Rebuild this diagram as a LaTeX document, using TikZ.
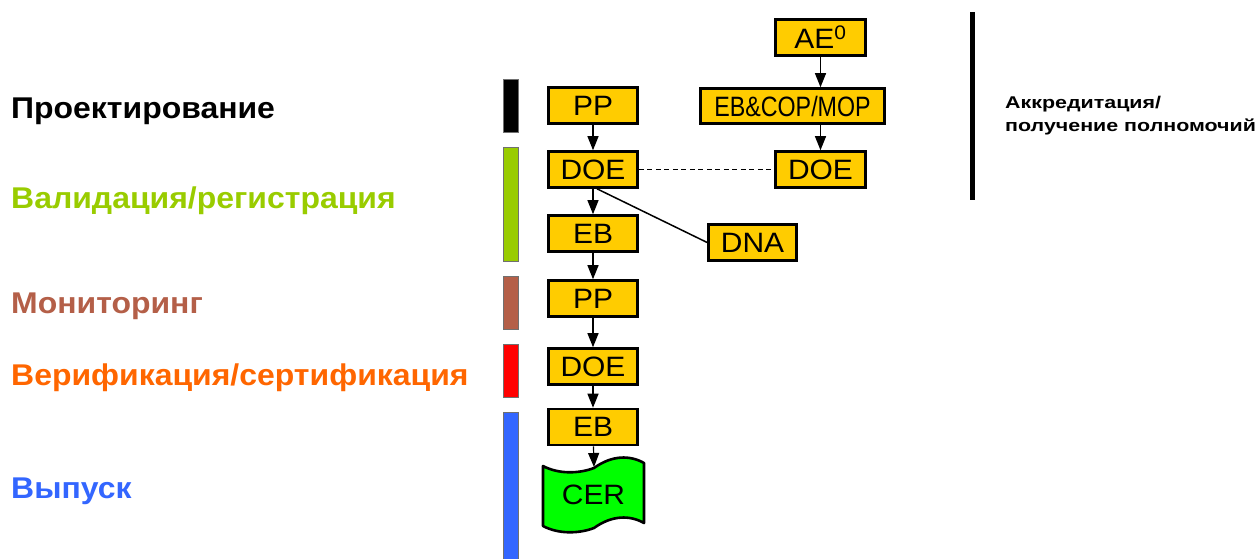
\documentclass[tikz,border=0pt]{standalone}
\usepackage{fontspec}
\setmainfont{Liberation Sans}
\newfontfamily\boxfont[FakeStretch=1.07]{Liberation Sans}
\newfontfamily\phasefont[FakeStretch=1.065]{Liberation Sans}
\newfontfamily\notefont[FakeStretch=1.26]{Liberation Sans}
\usetikzlibrary{arrows.meta}
\definecolor{boxfill}{HTML}{FFCC00}
\definecolor{cerfill}{HTML}{00FF00}
\definecolor{phgreen}{HTML}{99CC00}
\definecolor{phbrown}{HTML}{B45F48}
\definecolor{phred}{HTML}{FF0000}
\definecolor{phorange}{HTML}{FF6600}
\definecolor{phblue}{HTML}{3366FF}
\definecolor{barborder}{HTML}{707070}
\tikzset{
  stagebox/.style={draw=black, line width=2.6pt, fill=boxfill, minimum width=89pt,
    minimum height=36pt, inner sep=0pt, font=\boxfont\fontsize{28}{30}\selectfont},
  flow/.style={line width=1.2pt, -{Triangle[length=14pt, width=11pt]}},
  phase/.style={anchor=base west, inner sep=0pt, font=\phasefont\fontsize{30}{32}\selectfont\bfseries},
  phasebar/.style={draw=barborder, line width=0.8pt},
}
\begin{document}
\begin{tikzpicture}[x=1pt, y=-1pt]
\useasboundingbox (0,0) rectangle (1260,558);

% phase labels
\node[phase] (lbl1) at (11,118) {Проектирование};
\node[phase, text=phgreen] (lbl2) at (11,208) {Валидация/регистрация};
\node[phase, text=phbrown] (lbl3) at (11,313) {Мониторинг};
\node[phase, text=phorange] (lbl4) at (11,385) {Верификация/сертификация};
\node[phase, text=phblue] (lbl5) at (11,498) {Выпуск};

% phase bars
\fill[phasebar, fill=black] (503,79) rectangle (518,132);
\fill[phasebar, fill=phgreen] (503,147) rectangle (518,261);
\fill[phasebar, fill=phbrown] (503,276) rectangle (518,329);
\fill[phasebar, fill=phred] (503,344) rectangle (518,397);
\fill[phasebar, fill=phblue] (503,412) rectangle (518,562);

% project cycle
\node[stagebox] (pp1) at (593,105.5) {PP};
\node[stagebox] (doe1) at (593,169.5) {DOE};
\node[stagebox] (eb1) at (593,233.5) {EB};
\node[stagebox] (pp2) at (593,298.5) {PP};
\node[stagebox] (doe2) at (593,366.5) {DOE};
\node[stagebox] (eb2) at (593,427) {EB};

% certificate
\fill[cerfill, draw=black, line width=2.6pt, line join=round]
  (543,466) .. controls (558,474) and (578,474) .. (594,468)
  .. controls (612,455) and (630,455) .. (644,463)
  -- (644,523) .. controls (630,515) and (612,515) .. (594,528)
  .. controls (578,534) and (558,534) .. (543,526) -- cycle;
\node[font=\boxfont\fontsize{28}{30}\selectfont] (cer) at (593.5,495) {CER};
\coordinate (certop) at (594,467);

% accreditation branch
\node[stagebox, minimum width=90pt] (ae) at (820.5,37.5) {AE\textsuperscript{0}};
\node[stagebox, minimum width=184pt, minimum height=35pt] (ebcop) at (792.5,106) {\scalebox{0.776}[1]{EB\&COP/MOP}};
\node[stagebox, minimum width=90pt] (doe3) at (820.5,169.5) {DOE};
\node[stagebox, minimum width=88pt] (dna) at (752.5,242.5) {DNA};

% connectors
\draw[flow] (pp1) -- (doe1);
\draw[flow] (doe1) -- (eb1);
\draw[flow] (eb1) -- (pp2);
\draw[flow] (pp2) -- (doe2);
\draw[flow] (doe2) -- (eb2);
\draw[flow] (eb2) -- (certop);
\draw[flow] (ae) -- (ae |- ebcop.north);
\draw[flow] (doe3 |- ebcop.south) -- (doe3);
\draw[line width=1.5pt, dash pattern=on 5pt off 3.5pt] (doe1.east) -- (doe3.west);
\draw[line width=1.5pt] ([xshift=4pt]doe1.south) -- (dna.west);

% accreditation marker
\coordinate (acctop) at (972.5,12);
\coordinate (accbot) at (972.5,200);
\draw[line width=5pt] (acctop) -- (accbot);
\node[anchor=base west, align=left, font=\notefont\fontsize{17}{23}\selectfont\bfseries, inner sep=0pt] (acc) at (1005,131)
  {Аккредитация/\\получение полномочий};
\end{tikzpicture}
\end{document}
